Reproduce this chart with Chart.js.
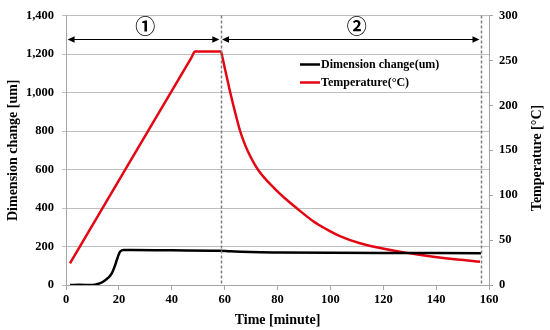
<!DOCTYPE html>
<html>
<head>
<meta charset="utf-8">
<script src="https://cdn.jsdelivr.net/npm/chart.js@4"></script>
<style>
html,body{margin:0;padding:0;background:#fff;}
#wrap{width:550px;height:330px;}
</style>
</head>
<body>
<div id="wrap"><canvas id="c" width="550" height="330"></canvas></div>
<script>
// ---- data ----
const dimTime   = [1.5, 5, 10, 12, 14, 16, 17.3, 18.5, 19.2, 20.4, 21.7, 25, 40, 58, 62, 70, 80, 100, 130, 157];
const dimValues = [0, 1, 0, 5, 17, 38, 60, 100, 129, 172, 182, 182, 180, 178, 175, 171, 169, 167, 166, 165];

const tempTime   = [1.5, 3, 47.5, 48.8, 58.6, 59.2, 60.1, 62, 63.9, 65.8, 67.4, 69, 72.7, 79, 83, 87.2, 93.5, 98.6, 103.6, 111.2, 117.5, 126.3, 130.1, 138.9, 148, 156.6];
const tempValues = [24, 31.5, 253.5, 260, 260, 253, 241, 216, 193, 172, 158.5, 147.5, 128, 107, 96, 85.7, 71, 62, 54.5, 46.5, 42, 37, 35.3, 31.5, 28.3, 26];

const seriesLabels = ['Dimension change(um)', 'Temperature(\u00B0C)'];
const axisTitles = {x: 'Time [minute]', y: 'Dimension change [um]', y1: 'Temperature [\u00B0C]'};
const phaseLines = [58.5, 156.8];          // dashed boundaries (minutes)
const arrowSpans = [[0.6, 58.0], [59.0, 156.4]];
const arrowLevel = 1280;                   // in dimension-axis units
const phaseLabels = ['\u2460', '\u2461'];
const phaseLabelX = [30, 110];
const phaseLabelLevel = 1345;

const xTicks = {min: 0, max: 160, step: 20};
const yTicks = {min: 0, max: 1400, step: 200};
const y1Ticks = {min: 0, max: 300, step: 50};

const FONT = "'Liberation Serif', 'Times New Roman', serif";

const toXY = (xs, ys) => xs.map((x, i) => ({x: x, y: ys[i]}));

const overlay = {
  id: 'overlay',
  afterDatasetsDraw(chart) {
    const {ctx, chartArea, scales} = chart;
    const xs = scales.x, ys = scales.y;
    ctx.save();
    // dashed phase boundaries
    ctx.strokeStyle = '#7f7f7f';
    ctx.lineWidth = 1.5;
    ctx.setLineDash([3, 2]);
    phaseLines.forEach(v => {
      const px = Math.round(xs.getPixelForValue(v)) + 0.5;
      ctx.beginPath();
      ctx.moveTo(px, chartArea.top);
      ctx.lineTo(px, chartArea.bottom);
      ctx.stroke();
    });
    ctx.setLineDash([]);
    // double arrows
    const ay = Math.round(ys.getPixelForValue(arrowLevel)) + 0.5;
    ctx.strokeStyle = '#000';
    ctx.fillStyle = '#000';
    ctx.lineWidth = 1;
    arrowSpans.forEach(([a, b]) => {
      const x1 = xs.getPixelForValue(a), x2 = xs.getPixelForValue(b);
      ctx.beginPath();
      ctx.moveTo(x1 + 2, ay);
      ctx.lineTo(x2 - 2, ay);
      ctx.stroke();
      const head = (x, dir) => {
        ctx.beginPath();
        ctx.moveTo(x, ay);
        ctx.lineTo(x + dir * 7, ay - 3.2);
        ctx.lineTo(x + dir * 7, ay + 3.2);
        ctx.closePath();
        ctx.fill();
      };
      head(x1, 1);
      head(x2, -1);
    });
    // circled phase numbers
    ctx.font = "bold 20px 'Noto Sans CJK KR', 'DejaVu Sans', sans-serif";
    ctx.textAlign = 'center';
    ctx.textBaseline = 'middle';
    phaseLabels.forEach((t, i) => {
      ctx.fillText(t, xs.getPixelForValue(phaseLabelX[i]), ys.getPixelForValue(phaseLabelLevel));
    });
    // legend inside the plot
    const lx = 300, ly = [64.5, 82.5];
    ctx.font = "bold 12px " + FONT;
    ctx.textAlign = 'left';
    chart.data.datasets.forEach((ds, i) => {
      ctx.strokeStyle = ds.borderColor;
      ctx.lineWidth = 2.5;
      ctx.beginPath();
      ctx.moveTo(lx, ly[i]);
      ctx.lineTo(lx + 20, ly[i]);
      ctx.stroke();
      ctx.fillStyle = '#000';
      ctx.fillText(ds.label, lx + 21, ly[i] + 0.5);
    });
    // right axis title, reading bottom-to-top
    ctx.font = "bold 14px " + FONT;
    ctx.textAlign = 'center';
    ctx.translate(537, 158);
    ctx.rotate(-Math.PI / 2);
    ctx.fillText(axisTitles.y1, 0, 0);
    ctx.restore();
  }
};

new Chart(document.getElementById('c'), {
  type: 'scatter',
  data: {
    datasets: [
      {
        label: seriesLabels[0],
        data: toXY(dimTime, dimValues),
        showLine: true,
        borderColor: '#000000',
        borderWidth: 2.5,
        pointRadius: 0,
        cubicInterpolationMode: 'monotone',
        yAxisID: 'y'
      },
      {
        label: seriesLabels[1],
        data: toXY(tempTime, tempValues),
        showLine: true,
        borderColor: '#e30613',
        borderWidth: 2.5,
        pointRadius: 0,
        cubicInterpolationMode: 'monotone',
        yAxisID: 'y1'
      }
    ]
  },
  options: {
    responsive: false,
    animation: false,
    devicePixelRatio: 1,
    layout: {padding: {top: 14, left: 0, right: 0, bottom: 0}},
    plugins: {legend: {display: false}, tooltip: {enabled: false}},
    scales: {
      x: {
        type: 'linear',
        min: xTicks.min, max: xTicks.max,
        ticks: {stepSize: xTicks.step, color: '#000', font: {family: FONT, size: 12.5, weight: 'bold'}, padding: 2, maxRotation: 0},
        grid: {drawOnChartArea: false, color: '#a6a6a6', tickLength: 5},
        border: {color: '#a6a6a6'},
        title: {display: true, text: axisTitles.x, color: '#000', font: {family: FONT, size: 14, weight: 'bold'}, padding: {top: 0, bottom: 1}},
        afterFit(s) { s.height = 45; }
      },
      y: {
        position: 'left',
        min: yTicks.min, max: yTicks.max,
        ticks: {stepSize: yTicks.step, color: '#000', font: {family: FONT, size: 12.5, weight: 'bold'}, padding: 8,
                callback: v => v.toLocaleString('en-US')},
        grid: {color: '#bfbfbf', tickLength: 4},
        border: {color: '#a6a6a6'},
        title: {display: true, text: axisTitles.y, color: '#000', font: {family: FONT, size: 14, weight: 'bold'}, padding: {top: 5, bottom: 0}},
        afterFit(s) { s.width = 66; }
      },
      y1: {
        position: 'right',
        min: y1Ticks.min, max: y1Ticks.max,
        ticks: {stepSize: y1Ticks.step, color: '#000', font: {family: FONT, size: 12.5, weight: 'bold'}, padding: 6},
        grid: {drawOnChartArea: false, color: '#a6a6a6', tickLength: 4},
        border: {color: '#a6a6a6'},
        title: {display: false},
        afterFit(s) { s.width = 61; }
      }
    }
  },
  plugins: [overlay]
});
</script>
</body>
</html>
